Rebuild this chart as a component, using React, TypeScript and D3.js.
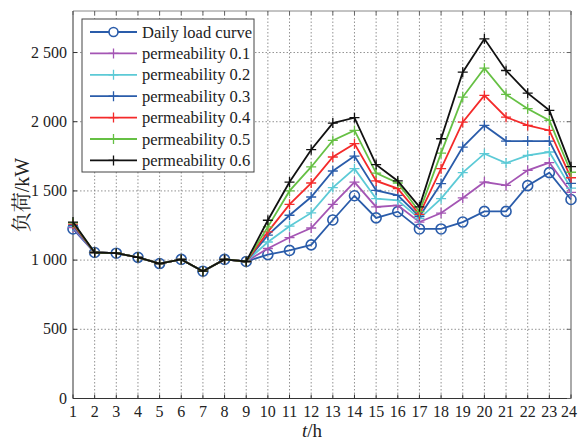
import React from "react";
import * as d3 from "d3";

const hours = d3.range(1, 25);
const dailyLoad = [1225, 1055, 1050, 1020, 975, 1005, 920, 1005, 990, 1040, 1070, 1110, 1290, 1465, 1305, 1350, 1225, 1225, 1275, 1352, 1352, 1538, 1632, 1438];
const perm01 = [1235, 1055, 1050, 1020, 975, 1005, 920, 1005, 990, 1084, 1163, 1232, 1403, 1564, 1384, 1396, 1275, 1340, 1449, 1564, 1540, 1649, 1705, 1490];
const perm02 = [1245, 1055, 1050, 1020, 975, 1005, 920, 1005, 990, 1131, 1245, 1341, 1524, 1661, 1444, 1432, 1300, 1444, 1632, 1769, 1701, 1757, 1781, 1520];
const perm03 = [1250, 1055, 1050, 1020, 975, 1005, 920, 1005, 990, 1180, 1324, 1456, 1644, 1752, 1504, 1468, 1315, 1553, 1817, 1973, 1860, 1860, 1860, 1555];
const perm04 = [1260, 1055, 1050, 1020, 975, 1005, 920, 1005, 990, 1204, 1403, 1557, 1745, 1841, 1572, 1517, 1330, 1661, 1997, 2190, 2033, 1973, 1937, 1595];
const perm05 = [1270, 1055, 1050, 1020, 975, 1005, 920, 1005, 990, 1240, 1500, 1673, 1865, 1937, 1629, 1557, 1350, 1773, 2178, 2387, 2197, 2094, 2009, 1635];
const perm06 = [1275, 1055, 1050, 1020, 975, 1005, 920, 1005, 990, 1288, 1564, 1798, 1990, 2029, 1690, 1572, 1385, 1877, 2358, 2599, 2370, 2206, 2082, 1675];

const seriesNames = ["Daily load curve", "permeability 0.1", "permeability 0.2", "permeability 0.3", "permeability 0.4", "permeability 0.5", "permeability 0.6"];
const seriesValues = [dailyLoad, perm01, perm02, perm03, perm04, perm05, perm06];
const seriesColors = ["#2a5caa", "#a455b4", "#5ccad6", "#2a5caa", "#f42a2a", "#66c044", "#111111"];
const yTicks = [0, 500, 1000, 1500, 2000, 2500];
const yTickLabels = ["0", "500", "1 000", "1 500", "2 000", "2 500"];

const W = 580, H = 443;
const left = 73, right = 571, top = 11, bottom = 398.5;

const serif = { fontFamily: "Liberation Serif" };
const cjk = { fontFamily: "Noto Serif CJK SC" };

export default function App() {
  const x = d3.scaleLinear().domain([1, 24]).range([left, right]);
  const y = d3.scaleLinear().domain([0, 2800]).range([bottom, top]);
  const line = d3.line<number>().x((_, i) => x(hours[i])).y((d) => y(d));

  const legX = 82, legY = 19, legW = 172, legH = 153;
  const rowH = 21.4;

  return (
    <div style={{ position: "fixed", left: 0, top: 0, width: W, height: H, overflow: "hidden" }}>
      <svg width={W} height={H} style={{ display: "block", background: "#fff" }}>
        {/* grid */}
        {hours.slice(1, -1).map((h) => (
          <line key={"gx" + h} x1={x(h)} x2={x(h)} y1={top} y2={bottom} stroke="#777" strokeWidth={0.8} strokeDasharray="1.5,2" />
        ))}
        {yTicks.slice(1).map((t) => (
          <line key={"gy" + t} x1={left} x2={right} y1={y(t)} y2={y(t)} stroke="#777" strokeWidth={0.8} strokeDasharray="1.5,2" />
        ))}
        {/* frame */}
        <line x1={left} x2={right} y1={top} y2={top} stroke="#888" strokeWidth={1} />
        <line x1={right} x2={right} y1={top} y2={bottom} stroke="#aaa" strokeWidth={2} />
        <line x1={left} x2={left} y1={top} y2={bottom} stroke="#333" strokeWidth={1} />
        <line x1={left} x2={right} y1={bottom} y2={bottom} stroke="#333" strokeWidth={1} />
        {/* ticks */}
        {hours.map((h) => (
          <g key={"tx" + h}>
            <line x1={x(h)} x2={x(h)} y1={bottom} y2={bottom - 4} stroke="#333" />
            <line x1={x(h)} x2={x(h)} y1={top} y2={top + 4} stroke="#666" />
            <text x={x(h) - (h === 24 ? 2 : 0)} y={417} textAnchor="middle" style={serif} fontSize={16} fill="#222">{h}</text>
          </g>
        ))}
        {yTicks.map((t, i) => (
          <g key={"ty" + t}>
            <line x1={left} x2={left + 4} y1={y(t)} y2={y(t)} stroke="#333" />
            <line x1={right} x2={right - 4} y1={y(t)} y2={y(t)} stroke="#666" />
            <text x={67} y={y(t) + 5} textAnchor="end" style={serif} fontSize={16} fill="#222">{yTickLabels[i]}</text>
          </g>
        ))}
        {/* axis labels */}
        <text x={312} y={437} textAnchor="middle" style={serif} fontSize={19} fill="#222">
          <tspan fontStyle="italic">t</tspan>/h
        </text>
        <text transform="translate(29,195) rotate(-90)" textAnchor="middle" fontSize={20} fill="#222">
          <tspan style={cjk}>负荷</tspan>
          <tspan style={serif}>/kW</tspan>
        </text>
        {/* series */}
        {seriesValues.map((vals, si) => (
          <g key={"s" + si}>
            <path d={line(vals) || ""} fill="none" stroke={seriesColors[si]} strokeWidth={1.8} />
            {vals.map((v, i) =>
              si === 0 ? (
                <circle key={i} cx={x(hours[i])} cy={y(v)} r={5} fill="none" stroke={seriesColors[si]} strokeWidth={1.6} />
              ) : (
                <path key={i} d={`M${x(hours[i]) - 5},${y(v)}h10M${x(hours[i])},${y(v) - 5}v10`} stroke={seriesColors[si]} strokeWidth={1.3} />
              )
            )}
          </g>
        ))}
        {/* legend */}
        <rect x={legX} y={legY} width={legW} height={legH} fill="#fff" stroke="#444" strokeWidth={1} />
        {seriesNames.map((name, i) => {
          const cy = legY + 13 + i * rowH;
          return (
            <g key={"l" + i}>
              <line x1={90} x2={137} y1={cy} y2={cy} stroke={seriesColors[i]} strokeWidth={1.8} />
              {i === 0 ? (
                <circle cx={113.5} cy={cy} r={4.5} fill="#fff" stroke={seriesColors[i]} strokeWidth={1.6} />
              ) : (
                <path d={`M${108.5},${cy}h10M${113.5},${cy - 5}v10`} stroke={seriesColors[i]} strokeWidth={1.3} />
              )}
              <text x={142} y={cy + 5.5} style={serif} fontSize={16.5} fill="#222">{name}</text>
            </g>
          );
        })}
      </svg>
    </div>
  );
}
